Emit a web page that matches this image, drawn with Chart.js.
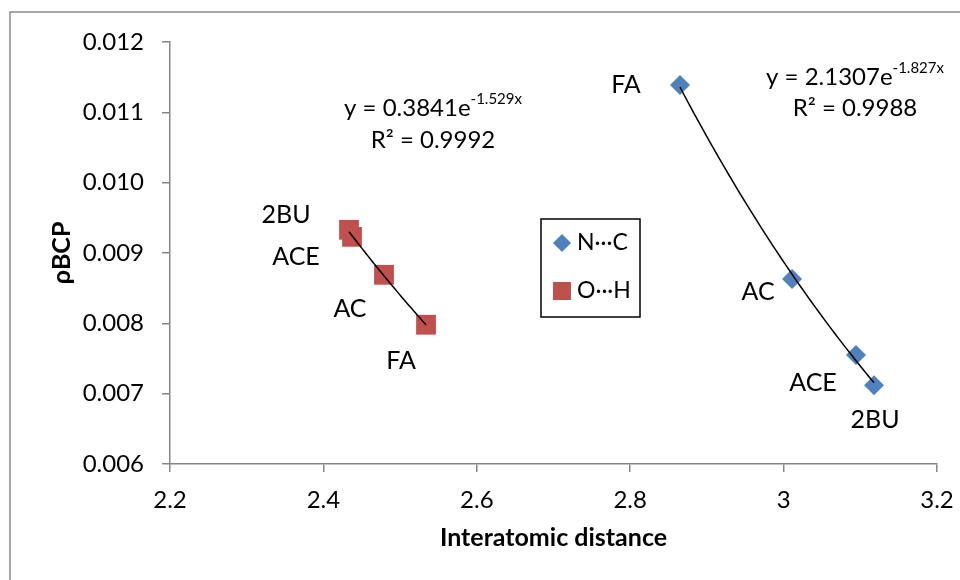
<!DOCTYPE html>
<html>
<head>
<meta charset="utf-8">
<script src="https://cdn.jsdelivr.net/npm/chart.js@4"></script>
<style>
  body { margin: 0; background: #fff; }
  canvas { display: block; }
</style>
</head>
<body>
<canvas id="rhoChart" width="960" height="580"></canvas>
<script>
// Data
const seriesNames = ['N\u00B7\u00B7\u00B7C', 'O\u00B7\u00B7\u00B7H'];
const ncX = [2.8649, 3.0110, 3.0944, 3.1179];
const ncY = [0.01139, 0.00863, 0.00755, 0.00712];
const ncLabels = ['FA', 'AC', 'ACE', '2BU'];
const ohX = [2.4334, 2.4373, 2.4790, 2.5338];
const ohY = [0.00933, 0.00923, 0.00869, 0.00798];
const ohLabels = ['2BU', 'ACE', 'AC', 'FA'];
// exponential trendlines y = a * e^(b x), as printed on the chart
const fitA = [2.1307, 0.3841];
const fitB = [-1.827, -1.529];
const fitR2 = [0.9988, 0.9992];
const xTicks = [2.2, 2.4, 2.6, 2.8, 3, 3.2];
const yTicks = [0.006, 0.007, 0.008, 0.009, 0.010, 0.011, 0.012];

const FONT = 'Lato';
const blue = '#4F81BD';
const red = '#C0504D';
const axisGray = '#868686';

// label offsets (px) from each point
const labelOffsets = [
  [[-54, 0], [-34, 13], [-43, 28], [1, 35]],
  [[-63, -15], [-56, 20], [-34, 34], [-25, 36]]
];
const pointLabels = [ncLabels, ohLabels];
const eqPos = [
  { cx: 855, y1: 77, y2: 108 },
  { cx: 433, y1: 108, y2: 140 }
];

function toPoints(xs, ys) {
  return xs.map((x, i) => ({ x: x, y: ys[i] }));
}

const extrasPlugin = {
  id: 'extras',
  beforeDraw(chart) {
    const ctx = chart.ctx;
    ctx.save();
    ctx.strokeStyle = '#8a8a8a';
    ctx.lineWidth = 1.5;
    ctx.beginPath();
    ctx.moveTo(10, 580);
    ctx.lineTo(10, 12);
    ctx.lineTo(960, 12);
    ctx.stroke();
    ctx.restore();
  },
  afterDatasetsDraw(chart) {
    const ctx = chart.ctx;
    const xs = chart.scales.x, ys = chart.scales.y;
    ctx.save();

    // trendlines
    [ncX, ohX].forEach((arr, s) => {
      const x0 = Math.min(...arr), x1 = Math.max(...arr);
      ctx.strokeStyle = '#000';
      ctx.lineWidth = 1.5;
      ctx.beginPath();
      const n = 40;
      for (let i = 0; i <= n; i++) {
        const xv = x0 + (x1 - x0) * i / n;
        const yv = fitA[s] * Math.exp(fitB[s] * xv);
        const px = xs.getPixelForValue(xv), py = ys.getPixelForValue(yv);
        if (i === 0) ctx.moveTo(px, py); else ctx.lineTo(px, py);
      }
      ctx.stroke();
    });

    // point labels
    ctx.fillStyle = '#000';
    ctx.font = '25px ' + FONT;
    ctx.textAlign = 'center';
    ctx.textBaseline = 'middle';
    chart.data.datasets.forEach((ds, s) => {
      ds.data.forEach((p, i) => {
        const px = xs.getPixelForValue(p.x), py = ys.getPixelForValue(p.y);
        const off = labelOffsets[s][i];
        ctx.fillText(pointLabels[s][i], px + off[0], py + off[1]);
      });
    });

    // equations
    eqPos.forEach((pos, s) => {
      const main = 'y = ' + fitA[s] + 'e';
      const sup = fitB[s] + 'x';
      ctx.font = '24px ' + FONT;
      const w1 = ctx.measureText(main).width;
      ctx.font = '15px ' + FONT;
      const w2 = ctx.measureText(sup).width;
      const start = pos.cx - (w1 + w2) / 2;
      ctx.textAlign = 'left';
      ctx.font = '24px ' + FONT;
      ctx.fillText(main, start, pos.y1);
      ctx.font = '15px ' + FONT;
      ctx.fillText(sup, start + w1, pos.y1 - 9);
      ctx.font = '24px ' + FONT;
      ctx.textAlign = 'center';
      ctx.fillText('R\u00B2 = ' + fitR2[s], pos.cx, pos.y2);
    });

    // legend box
    ctx.strokeStyle = '#000';
    ctx.lineWidth = 1.5;
    ctx.strokeRect(541, 219, 99, 98);
    const rows = [243, 291];
    chart.data.datasets.forEach((ds, s) => {
      const cy = rows[s], cx = 562;
      ctx.fillStyle = ds.backgroundColor;
      ctx.beginPath();
      if (ds.pointStyle === 'rectRot') {
        ctx.moveTo(cx, cy - 9);
        ctx.lineTo(cx + 9, cy);
        ctx.lineTo(cx, cy + 9);
        ctx.lineTo(cx - 9, cy);
        ctx.closePath();
      } else {
        ctx.rect(cx - 9, cy - 9, 18, 18);
      }
      ctx.fill();
      ctx.fillStyle = '#000';
      ctx.font = '23px ' + FONT;
      ctx.textAlign = 'left';
      ctx.fillText(seriesNames[s], 577, cy);
    });

    ctx.restore();
  }
};

new Chart(document.getElementById('rhoChart').getContext('2d'), {
  type: 'scatter',
  data: {
    datasets: [
      {
        label: seriesNames[0],
        data: toPoints(ncX, ncY),
        pointStyle: 'rectRot',
        pointRadius: 10,
        pointHoverRadius: 10,
        backgroundColor: blue,
        borderColor: blue,
        borderWidth: 0
      },
      {
        label: seriesNames[1],
        data: toPoints(ohX, ohY),
        pointStyle: 'rect',
        pointRadius: 14,
        pointHoverRadius: 14,
        backgroundColor: red,
        borderColor: red,
        borderWidth: 0
      }
    ]
  },
  options: {
    responsive: false,
    animation: false,
    layout: { padding: { left: 0, right: 23, top: 42, bottom: 0 } },
    plugins: {
      legend: { display: false },
      tooltip: { enabled: false }
    },
    scales: {
      x: {
        type: 'linear',
        min: xTicks[0],
        max: xTicks[xTicks.length - 1],
        afterBuildTicks: scale => { scale.ticks = xTicks.map(v => ({ value: v })); },
        afterFit: scale => {
          scale.height = 116;
          scale.paddingRight = 0;
          scale.paddingLeft = 0;
        },
        ticks: {
          color: '#000',
          padding: 14,
          font: { family: FONT, size: 24 },
          callback: val => String(val)
        },
        grid: { drawOnChartArea: false, drawTicks: true, tickLength: 8, color: axisGray, lineWidth: 1.5 },
        border: { color: axisGray, width: 1.5 },
        title: {
          display: true,
          text: 'Interatomic distance',
          color: '#000',
          font: { family: FONT, size: 25, weight: 'bold' },
          padding: { top: 0, bottom: 27 }
        }
      },
      y: {
        type: 'linear',
        min: yTicks[0],
        max: yTicks[yTicks.length - 1],
        afterBuildTicks: scale => { scale.ticks = yTicks.map(v => ({ value: v })); },
        afterFit: scale => { scale.width = 170; },
        ticks: {
          color: '#000',
          padding: 18,
          font: { family: FONT, size: 24 },
          callback: val => val.toFixed(3)
        },
        grid: { drawOnChartArea: false, drawTicks: true, tickLength: 8, color: axisGray, lineWidth: 1.5 },
        border: { color: axisGray, width: 1.5 },
        title: {
          display: true,
          text: '\u03C1BCP',
          color: '#000',
          font: { family: FONT, size: 25, weight: 'bold' },
          padding: { top: 47, bottom: 0 }
        }
      }
    }
  },
  plugins: [extrasPlugin]
});
</script>
</body>
</html>
